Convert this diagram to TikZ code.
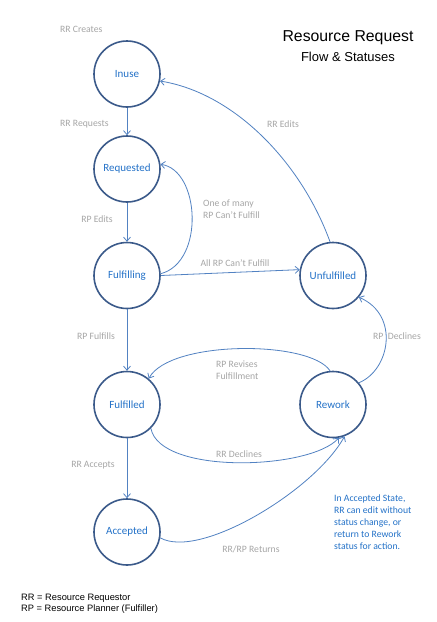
\documentclass[tikz,border=0pt]{standalone}
\usepackage{fontspec}
\setmainfont{Carlito}
\newfontfamily\arialf{Liberation Sans}
\usetikzlibrary{arrows.meta}
\definecolor{ringc}{HTML}{3B5A8A}
\definecolor{statec}{HTML}{2472C8}
\definecolor{edgec}{HTML}{5282C2}
\definecolor{labc}{HTML}{A6A6A6}
\tikzset{
  state/.style={circle,draw=ringc,line width=1.6pt,fill=white,minimum size=66pt,inner sep=0pt,
    text=statec,font=\fontsize{11}{12}\selectfont},
  flow/.style={draw=edgec,line width=0.8pt,-{Straight Barb[length=4pt,width=7pt]}},
  lab/.style={text=labc,font=\fontsize{9.7}{12}\selectfont,inner sep=0pt},
  note/.style={text=statec,font=\fontsize{9.7}{12}\selectfont,inner sep=0pt,align=left},
}
\begin{document}
\begin{tikzpicture}[x=1pt,y=-1pt]
\useasboundingbox[fill=white] (0,0) rectangle (437,622);
% states
\node[state] (inu) at (127,74) {Inuse};
\node[state] (req) at (127,169) {Requested};
\node[state] (ful) at (127,275.5) {Fulfilling};
\node[state] (unf) at (333,275.5) {Unfulfilled};
\node[state] (fud) at (127,404.5) {Fulfilled};
\node[state] (rew) at (333,404.5) {Rework};
\node[state] (acc) at (127,532) {Accepted};
% straight connectors
\draw[flow] (inu) -- (req);
\draw[flow] (req) -- (ful);
\draw[flow] (ful) -- (fud);
\draw[flow] (fud) -- (acc);
\draw[flow] (ful.east) -- (unf.170);
% curved connectors
\draw[flow] (ful.3) .. controls (205,262) and (200,170) .. (req.8);
\draw[flow] (unf.95) .. controls (301,162) and (234,93) .. (inu.-12);
\draw[flow] (rew.40) .. controls (390,370) and (400,315) .. (unf.-40);
\draw[flow] (rew.95) .. controls (310,340) and (170,340) .. (fud.50);
\draw[flow] (fud.-45) .. controls (160,475) and (310,470) .. (rew.-80);
\draw[flow] (acc.-10) .. controls (200,560) and (315,490) .. (rew.-70);
% labels
\node[lab,anchor=west] (l1) at (60,29) {RR Creates};
\node[lab,anchor=west] (l2) at (60,124) {RR Requests};
\node[lab] (l3) at (283,124) {RR Edits};
\node[lab] (l4) at (97,219) {RP Edits};
\node[lab,anchor=west,align=left] (l5) at (203,209) {One of many\\RP Can’t Fulfill};
\node[lab] (l6) at (235,263) {All RP Can’t Fulfill};
\node[lab] (l7) at (96,336) {RP Fulfills};
\node[lab] (l8) at (397,336) {RP\ \ Declines};
\node[lab,anchor=west,align=left] (l9) at (216,370) {RP Revises\\Fulfillment};
\node[lab] (l10) at (239,454) {RR Declines};
\node[lab] (l11) at (93,465) {RR Accepts};
\node[lab] (l12) at (251,549) {RR/RP Returns};
\node[note,anchor=west] (nt) at (334,522) {In Accepted State,\\RR can edit without\\status change, or\\return to Rework\\status for action.};
% title
\node[font=\arialf\fontsize{15.8}{18}\selectfont,inner sep=0pt] (t1) at (348,38) {Resource Request};
\node[font=\arialf\fontsize{13}{15}\selectfont,inner sep=0pt] (t2) at (348,57) {Flow \& Statuses};
% footer
\node[font=\arialf\fontsize{9.3}{11}\selectfont,inner sep=0pt,anchor=west,align=left] (ft) at (21,603.5) {RR = Resource Requestor\\RP = Resource Planner (Fulfiller)};
\end{tikzpicture}
\end{document}
